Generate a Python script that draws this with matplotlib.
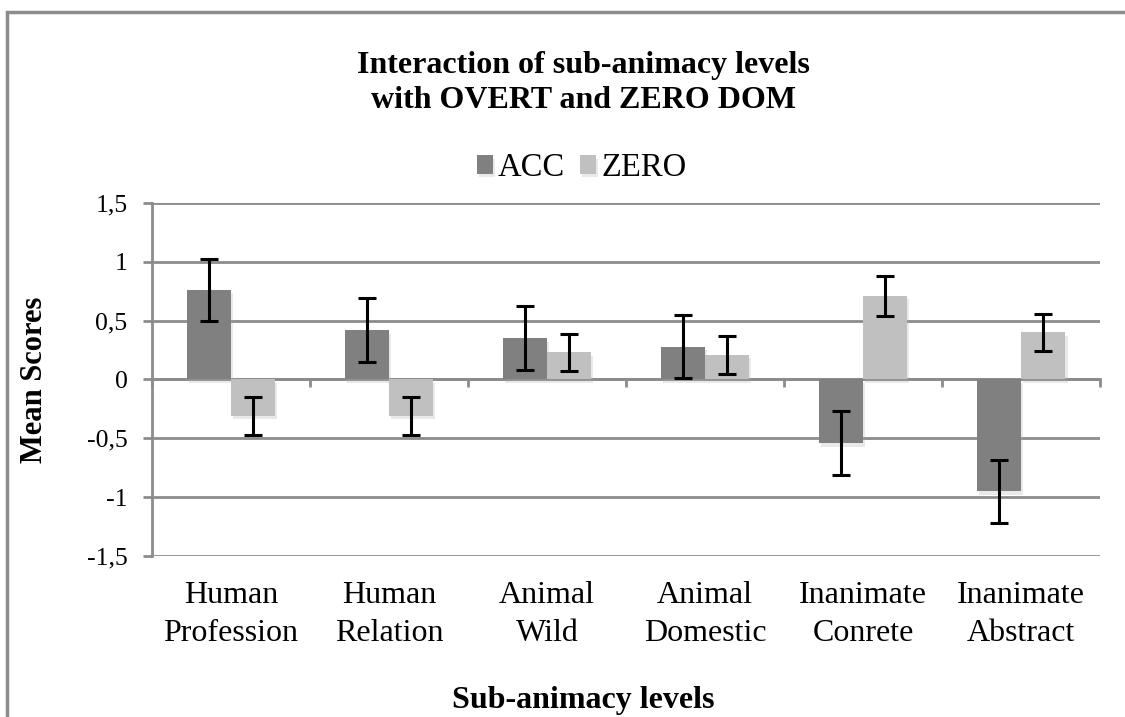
import matplotlib
matplotlib.use('Agg')
import matplotlib.pyplot as plt
import matplotlib.patheffects as pe
import numpy as np
from matplotlib.patches import Rectangle

plt.rcParams['font.family'] = ['Liberation Serif', 'DejaVu Serif']

categories = ['Human\nProfession', 'Human\nRelation', 'Animal\nWild',
              'Animal\nDomestic', 'Inanimate\nConrete', 'Inanimate\nAbstract']
acc = [0.76, 0.42, 0.35, 0.28, -0.54, -0.95]
acc_err = [0.26, 0.27, 0.27, 0.27, 0.27, 0.27]
zero = [-0.31, -0.31, 0.23, 0.21, 0.71, 0.40]
zero_err = [0.16, 0.16, 0.16, 0.16, 0.17, 0.16]
yticks = [-1.5, -1, -0.5, 0, 0.5, 1, 1.5]
ytick_labels = ['-1,5', '-1', '-0,5', '0', '0,5', '1', '1,5']

c_acc = '#808080'
c_zero = '#c0c0c0'
grid_c = '#8c8c8c'

fig = plt.figure(figsize=(11.25, 7.17), dpi=100)
ax = fig.add_axes([0.135, 0.2245, 0.843, 0.4925])

x = np.arange(len(categories))
w = 0.28
shadow = [pe.SimplePatchShadow(offset=(1.5, -2.5), shadow_rgbFace='#aaaaaa', alpha=0.25), pe.Normal()]
b1 = ax.bar(x - w / 2, acc, w, color=c_acc, label='ACC', zorder=3)
b2 = ax.bar(x + w / 2, zero, w, color=c_zero, label='ZERO', zorder=3)
for b in list(b1) + list(b2):
    b.set_path_effects(shadow)
ax.errorbar(x - w / 2, acc, yerr=acc_err, fmt='none', ecolor='black',
            elinewidth=2.2, capsize=6.5, capthick=2.2, zorder=4)
ax.errorbar(x + w / 2, zero, yerr=zero_err, fmt='none', ecolor='black',
            elinewidth=2.2, capsize=6.5, capthick=2.2, zorder=4)

ax.set_xlim(-0.5, len(categories) - 0.5)
ax.set_ylim(-1.5, 1.5)
ax.set_yticks(yticks)
ax.set_yticklabels(ytick_labels, fontsize=18.5)
ax.yaxis.grid(True, color=grid_c, linewidth=2)
ax.set_axisbelow(True)
ax.tick_params(axis='y', length=6.5, width=2, color=grid_c, pad=11)

for s in ['top', 'right']:
    ax.spines[s].set_visible(False)
ax.spines['left'].set_color(grid_c)
ax.spines['left'].set_linewidth(2)
ax.spines['bottom'].set_position(('data', 0))
ax.spines['bottom'].set_color(grid_c)
ax.spines['bottom'].set_linewidth(2)
ax.set_xticks(np.arange(len(categories) + 1) - 0.5)
ax.set_xticklabels([])
ax.tick_params(axis='x', length=6, width=2, color=grid_c)

# category names sit at the bottom of the plot area, not at the zero line
sec = ax.secondary_xaxis('bottom')
sec.set_xticks(x)
sec.set_xticklabels(categories, fontsize=23, linespacing=1.4)
sec.tick_params(length=0, pad=18)
sec.spines['bottom'].set_visible(False)

ax.set_ylabel('Mean Scores', fontsize=22, fontweight='bold')
ax.yaxis.set_label_coords(-0.109, 0.5)
fig.text(0.518, 0.012, 'Sub-animacy levels', ha='center', fontsize=23, fontweight='bold')
fig.text(0.519, 0.884, 'Interaction of sub-animacy levels\nwith OVERT and ZERO DOM',
         ha='center', va='center', fontsize=23, fontweight='bold', linespacing=1.25)
fig.legend(handles=[b1, b2], labels=['ACC', 'ZERO'], loc='center', bbox_to_anchor=(0.517, 0.766),
           ncol=2, frameon=False, fontsize=23.5, handlelength=0.5, handleheight=0.5,
           handletextpad=0.15, columnspacing=0.45)

# chart frame (cut at right and bottom in the original screenshot)
fig.patches.append(Rectangle((0.006, -0.1), 1.1, 1.083, transform=fig.transFigure,
                             fill=False, edgecolor='#8c8c8c', linewidth=2.5))

fig.savefig('out.png', dpi=100)
